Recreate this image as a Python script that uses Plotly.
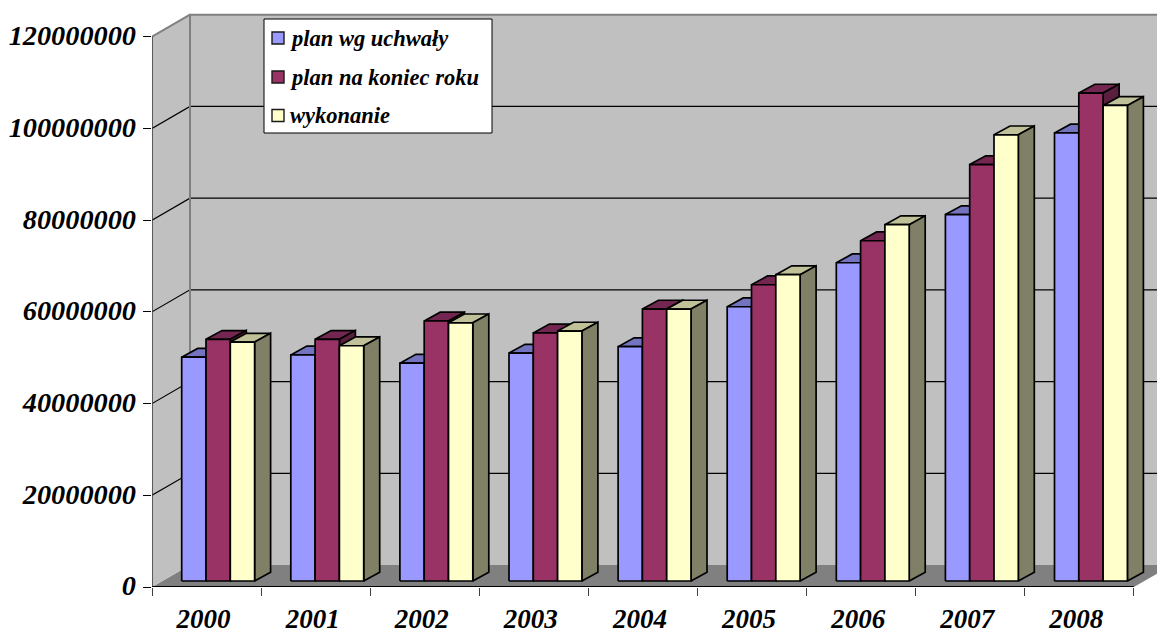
import plotly.graph_objects as go

years = ["2000", "2001", "2002", "2003", "2004", "2005", "2006", "2007", "2008"]
plan_wg_uchwaly = [48800000, 49300000, 47500000, 49700000, 51100000, 59800000, 69400000, 79900000, 97700000]
plan_na_koniec = [52700000, 52700000, 56700000, 54100000, 59300000, 64600000, 74200000, 90800000, 106400000]
wykonanie = [52100000, 51300000, 56300000, 54500000, 59300000, 66800000, 77700000, 97300000, 103700000]
y_ticks = [0, 20000000, 40000000, 60000000, 80000000, 100000000, 120000000]

series = [
    ("plan wg uchwały", plan_wg_uchwaly, "#9999FF", "#7373BF", "#4D4D80"),
    ("plan na koniec roku", plan_na_koniec, "#993366", "#732650", "#5A1F3F"),
    ("wykonanie", wykonanie, "#FFFFCC", "#C0C099", "#808066"),
]

W, H = 1157, 630
L, B = 152, 43
PLOT_H = H - B
PX_CAT = 109.1
PX_VAL = 550.3 / 120000000
x_lo, x_hi = -0.5, -0.5 + (W - L) / PX_CAT
y_hi = PLOT_H / PX_VAL

WALL_DX, WALL_DY = 38 / PX_CAT, 22 / PX_VAL
BAR_W = 24.3 / PX_CAT
BAR_X0 = -0.5 + 29.7 / PX_CAT
BAR_BASE = 6 / PX_VAL
BAR_DX, BAR_DY = 16 / PX_CAT, 8.8 / PX_VAL
VMAX = y_ticks[-1]
x_end = len(years) - 0.5

fig = go.Figure()


def poly(xs, ys, fill, line=None, width=0, name=None):
    fig.add_trace(go.Scatter(
        x=xs, y=ys, mode="lines", fill="toself", fillcolor=fill, name=name,
        line=dict(color=line or fill, width=width), hoverinfo="skip", showlegend=False))


def seg(xs, ys, color, width, clip=True):
    fig.add_trace(go.Scatter(
        x=xs, y=ys, mode="lines", line=dict(color=color, width=width),
        hoverinfo="skip", showlegend=False, cliponaxis=clip))


bx = x_lo + WALL_DX
# floor, walls
poly([x_lo, bx, x_end + WALL_DX, x_end, x_lo], [0, WALL_DY, WALL_DY, 0, 0], "#808080")
poly([x_lo, x_lo, bx, bx, x_lo], [0, VMAX, VMAX + WALL_DY, WALL_DY, 0], "#C0C0C0")
poly([bx, bx, x_end + WALL_DX, x_end + WALL_DX, bx],
     [WALL_DY, VMAX + WALL_DY, VMAX + WALL_DY, WALL_DY, WALL_DY], "#C0C0C0")
# gridlines
for v in y_ticks[1:-1]:
    seg([x_lo, bx, x_end + WALL_DX], [v, v + WALL_DY, v + WALL_DY], "#000000", 1.2)
# wall edges
seg([bx, bx, x_end + WALL_DX], [WALL_DY, VMAX + WALL_DY, VMAX + WALL_DY], "#808080", 2)
seg([x_lo, bx], [VMAX, VMAX + WALL_DY], "#808080", 2)

# bars (drawn back to front, left to right)
OUT = 1.7
for j, (name, vals, front, top, side) in enumerate(series):
    tx, ty, sx, sy, fx, fy = [], [], [], [], [], []
    for i, v in enumerate(vals):
        x0 = BAR_X0 + i + j * BAR_W
        x1 = x0 + BAR_W
        yb = BAR_BASE
        yt = BAR_BASE + v
        tx += [x0, x0 + BAR_DX, x1 + BAR_DX, x1, x0, None]
        ty += [yt, yt + BAR_DY, yt + BAR_DY, yt, yt, None]
        sx += [x1, x1 + BAR_DX, x1 + BAR_DX, x1, x1, None]
        sy += [yb, yb + BAR_DY, yt + BAR_DY, yt, yb, None]
        fx += [x0, x0, x1, x1, x0, None]
        fy += [yb, yt, yt, yb, yb, None]
    poly(tx, ty, top, "#000000", OUT)
    poly(sx, sy, side, "#000000", OUT)
    poly(fx, fy, front, "#000000", OUT, name=name)

# axis lines
seg([x_lo, x_lo], [0, VMAX], "#404040", 1.6, clip=False)
seg([x_lo, x_end], [0, 0], "#000000", 2, clip=False)

FONT = dict(family="Liberation Serif", color="#000000", weight="bold", style="italic")


def px(x):
    return (x - L) / (W - L)


def py(y):
    return (PLOT_H - y) / PLOT_H


# legend box and entries
shapes = [dict(type="rect", xref="paper", yref="paper", x0=px(264), x1=px(492), y0=py(133), y1=py(19),
               fillcolor="#FFFFFF", line=dict(color="#000000", width=1), layer="above")]
annotations = []
for (name, vals, front, top, side), cy in zip(series, [38, 77, 115.5]):
    shapes.append(dict(type="rect", xref="paper", yref="paper", x0=px(272), x1=px(284), y0=py(cy + 6), y1=py(cy - 6),
                       fillcolor=front, line=dict(color="#1A1A1A", width=1.4), layer="above"))
    annotations.append(dict(text=name, xref="paper", yref="paper", x=px(288), y=py(cy), xanchor="left",
                            yanchor="middle", showarrow=False, font=dict(size=22.5, **FONT), align="left"))

LABEL_SHIFT_X = 3 / PX_CAT
LABEL_SHIFT_Y = 1.5 / PX_VAL
fig.update_layout(
    width=W, height=H, autosize=False,
    margin=dict(l=L, r=0, t=0, b=B, pad=0),
    paper_bgcolor="#FFFFFF", plot_bgcolor="#FFFFFF",
    showlegend=False, shapes=shapes, annotations=annotations,
    xaxis=dict(range=[x_lo, x_hi], showgrid=False, zeroline=False, showline=False, automargin=False,
               tickmode="array", tickvals=[i - LABEL_SHIFT_X for i in range(len(years))], ticktext=years, ticks="",
               ticklabelstandoff=13, tickfont=dict(size=27, **FONT),
               minor=dict(tickmode="array", tickvals=[i - 0.5 for i in range(len(years) + 1)],
                          ticks="outside", ticklen=8, tickwidth=1.4, tickcolor="#404040", showgrid=False)),
    yaxis=dict(range=[0, y_hi], showgrid=False, zeroline=False, showline=False, automargin=False,
               tickmode="array", tickvals=[v + LABEL_SHIFT_Y for v in y_ticks], ticktext=[str(v) for v in y_ticks],
               ticks="", ticklabelstandoff=15, tickfont=dict(size=28.3, **FONT),
               minor=dict(tickmode="array", tickvals=y_ticks, ticks="outside", ticklen=8, tickwidth=1.2,
                          tickcolor="#000000", showgrid=False)),
)
fig.write_html("out.html", config=dict(displayModeBar=False),
               post_script="document.body.style.margin='0';document.documentElement.style.overflow='hidden';")
